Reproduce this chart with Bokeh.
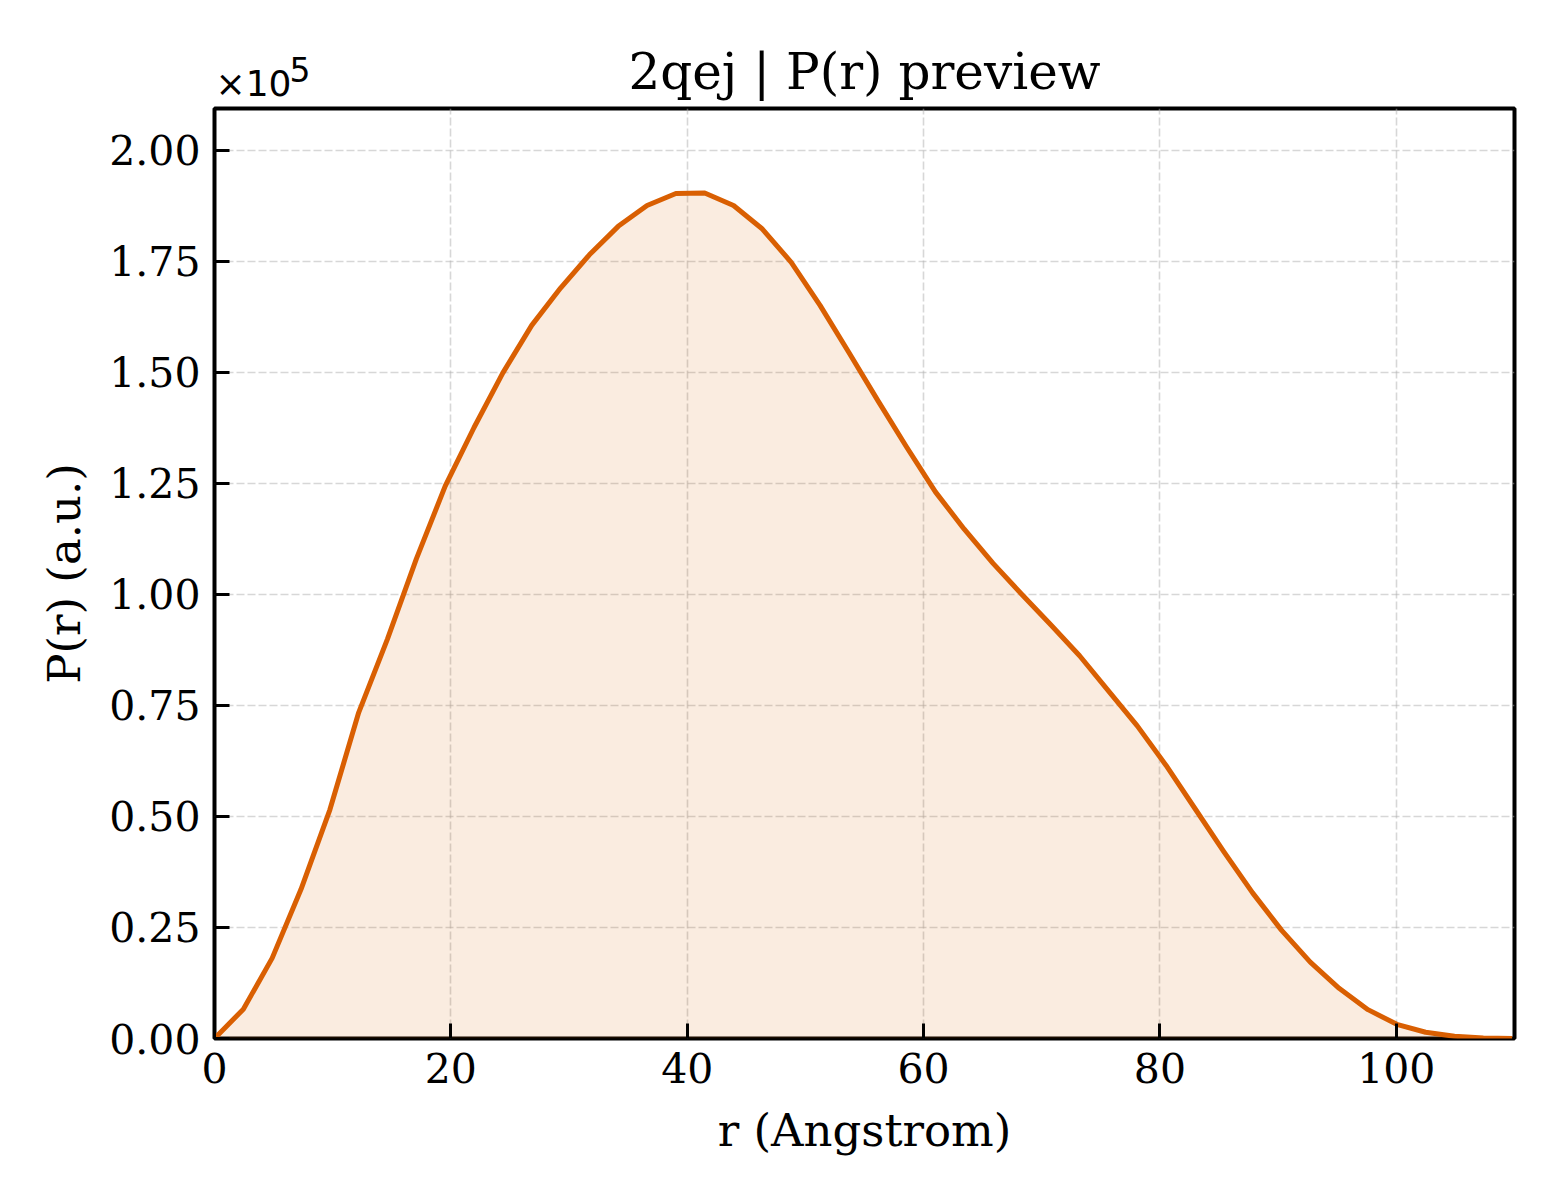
from bokeh.plotting import figure
from bokeh.models import Range1d, FixedTicker, PrintfTickFormatter, Title
from bokeh.embed import file_html
from bokeh.resources import INLINE

# Data: r (Angstrom) and P(r) (a.u.)
r_vals = [0.0, 2.44, 4.88, 7.32, 9.76, 12.2, 14.64, 17.08, 19.52, 21.96,
          24.4, 26.84, 29.28, 31.72, 34.16, 36.6, 39.04, 41.48, 43.92, 46.36,
          48.8, 51.24, 53.68, 56.12, 58.56, 61.0, 63.44, 65.88, 68.32, 70.76,
          73.2, 75.64, 78.08, 80.52, 82.96, 85.4, 87.84, 90.28, 92.72, 95.16,
          97.6, 100.04, 102.48, 104.92, 107.36, 109.8]
pr_vals = [0, 6600, 18100, 33600, 51500, 73400, 90000, 108000, 124400, 137600,
           149900, 160600, 169000, 176500, 182900, 187600, 190300, 190400, 187600, 182300,
           174800, 165100, 154500, 143700, 133200, 123100, 114700, 107000, 100000, 93200,
           86200, 78300, 70400, 61500, 51800, 42100, 32800, 24400, 17200, 11300,
           6500, 3200, 1400, 500, 100, 0]
x_ticks = [0, 20, 40, 60, 80, 100]
y_ticks = [0.0, 0.25, 0.5, 0.75, 1.0, 1.25, 1.5, 1.75, 2.0]
title_text = "2qej | P(r) preview"
x_label = "r (Angstrom)"
y_label = "P(r) (a.u.)"
scale_base = "\u00d710"
scale_exp = "5"

SCALE = 1e5
y_scaled = [v / SCALE for v in pr_vals]
ymax = 1.1 * max(y_scaled)

FONT = "DejaVu Serif"
MATH_FONT = "DejaVu Sans"
LINE_COLOR = "#D95F02"

p = figure(
    frame_width=1300, frame_height=930,
    min_border_left=214, min_border_right=38,
    min_border_top=108, min_border_bottom=154,
    x_range=Range1d(0, 110), y_range=Range1d(0, ymax),
    output_backend="svg", toolbar_location=None,
    title=None,
)
p.background_fill_color = "white"
p.border_fill_color = "white"
p.outline_line_color = "black"
p.outline_line_width = 4

# offset text "x10^5" (nearest the frame), main title and exponent stacked outside, pulled down
p.add_layout(Title(text=scale_base, align="left", offset=1, standoff=9,
                   vertical_align="bottom", text_font=MATH_FONT, text_font_size="36px",
                   text_font_style="normal", text_color="black"), "above")
p.add_layout(Title(text=title_text, align="center", standoff=-88,
                   vertical_align="bottom", text_font=FONT, text_font_size="50px",
                   text_font_style="normal", text_color="black"), "above")
p.add_layout(Title(text=scale_exp, align="left", offset=75, standoff=-50,
                   vertical_align="bottom", text_font=MATH_FONT, text_font_size="33px",
                   text_font_style="normal", text_color="black"), "above")

p.varea(x=r_vals, y1=[0] * len(y_scaled), y2=y_scaled, fill_color=LINE_COLOR, fill_alpha=0.12)
p.line(r_vals, y_scaled, line_color=LINE_COLOR, line_width=5, line_join="round")

for ax in (p.xaxis[0], p.yaxis[0]):
    ax.axis_line_color = None
    ax.major_tick_in = 15
    ax.major_tick_out = 0
    ax.major_tick_line_width = 3
    ax.major_tick_line_color = "black"
    ax.minor_tick_line_color = None
    ax.major_label_text_font = FONT
    ax.major_label_text_font_size = "41px"
    ax.major_label_text_color = "black"
    ax.axis_label_text_font = FONT
    ax.axis_label_text_font_size = "45px"
    ax.axis_label_text_font_style = "normal"
    ax.axis_label_text_color = "black"
    ax.major_label_standoff = 14

p.xaxis.ticker = FixedTicker(ticks=x_ticks)
p.xaxis.formatter = PrintfTickFormatter(format="%d")
p.xaxis.axis_label = x_label
p.xaxis.axis_label_standoff = 18

p.yaxis.ticker = FixedTicker(ticks=y_ticks)
p.yaxis.formatter = PrintfTickFormatter(format="%.2f")
p.yaxis.axis_label = y_label
p.yaxis.axis_label_standoff = 15

for g in (p.xgrid[0], p.ygrid[0]):
    g.grid_line_color = "#b0b0b0"
    g.grid_line_alpha = 0.5
    g.grid_line_width = 1.6
    g.grid_line_dash = "8 3"

open("out.html", "w").write(file_html(p, INLINE))
